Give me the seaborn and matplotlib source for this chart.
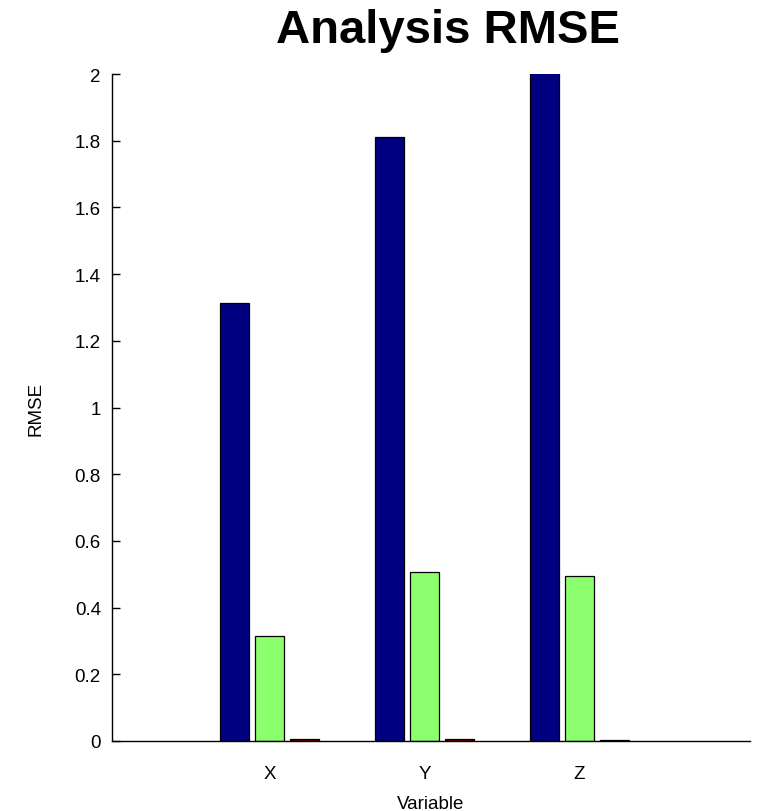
import matplotlib
matplotlib.use("Agg")
import matplotlib.pyplot as plt
import seaborn as sns
import pandas as pd

variables = ["X", "Y", "Z"]
series = ["A", "B", "C"]
values_a = [1.312, 1.81, 2.15]
values_b = [0.316, 0.508, 0.496]
values_c = [0.006, 0.006, 0.003]
colors = ["#000080", "#8CFF6E", "#800000"]
yticks = [0, 0.2, 0.4, 0.6, 0.8, 1, 1.2, 1.4, 1.6, 1.8, 2]
ytick_labels = ["0", "0.2", "0.4", "0.6", "0.8", "1", "1.2", "1.4", "1.6", "1.8", "2"]

rows = []
for s, vals in zip(series, [values_a, values_b, values_c]):
    for v, val in zip(variables, vals):
        rows.append({"Variable": v, "Series": s, "RMSE": val})
df = pd.DataFrame(rows)

sns.set_style("white")
plt.rcParams["font.family"] = ["Liberation Sans", "DejaVu Sans"]
plt.rcParams["text.color"] = "black"
plt.rcParams["axes.labelcolor"] = "black"
plt.rcParams["xtick.color"] = "black"
plt.rcParams["ytick.color"] = "black"

fig = plt.figure(figsize=(7.62, 8.12), dpi=100)
ax = fig.add_axes([112/762, 70/812, (750-112)/762, (742-75)/812])

sns.barplot(data=df, x="Variable", y="RMSE", hue="Series", palette=colors,
            width=0.678, gap=0.17, edgecolor="black", linewidth=0.9,
            saturation=1, legend=False, ax=ax, errorbar=None)

ax.set_ylim(0, 2)
ax.set_xlim(-1.016, 3.1)
ax.set_yticks(yticks)
ax.set_yticklabels(ytick_labels)
for sp in ["top", "right"]:
    ax.spines[sp].set_visible(False)
for sp in ["left", "bottom"]:
    ax.spines[sp].set_color("black")
    ax.spines[sp].set_linewidth(1.0)
ax.tick_params(axis="y", direction="in", length=6, width=1, labelsize=13.5, pad=8, left=True)
ax.tick_params(axis="x", length=0, labelsize=13.5, pad=17)
ax.set_xlabel("Variable", fontsize=13.5, labelpad=10)
ax.set_ylabel("RMSE", fontsize=13.5, labelpad=22)
fig.text(448/762, 1 - 31/812, "Analysis RMSE", ha="center", va="center",
         fontsize=34, fontweight="bold", color="black")

fig.savefig("out.png", dpi=100)
